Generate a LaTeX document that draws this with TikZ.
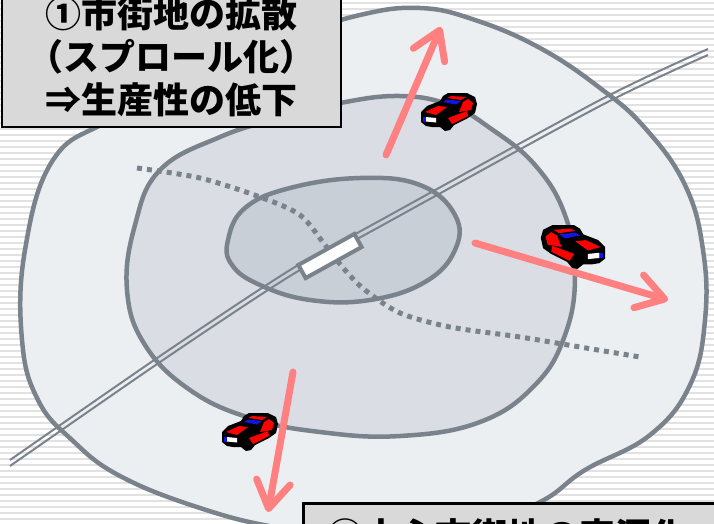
\documentclass[tikz,border=0pt]{standalone}
\usepackage{fontspec}
\newfontfamily\jpfont{Noto Sans CJK JP}
\usetikzlibrary{arrows.meta}

\definecolor{ring}{RGB}{122,131,140}
\definecolor{outerzone}{RGB}{236,239,242}
\definecolor{middlezone}{RGB}{218,222,228}
\definecolor{innerzone}{RGB}{200,207,215}
\definecolor{spreadred}{RGB}{255,128,128}
\definecolor{boxgray}{RGB}{217,217,217}
\definecolor{stripe}{RGB}{226,226,226}
\definecolor{carred}{RGB}{255,0,0}
\definecolor{carblue}{RGB}{20,20,230}

% small pixel style car, nose to the lower left
\tikzset{
  car/.pic={
    \begin{scope}[shift={(-39,-28)}]
      \fill[black] (11,28) -- (17,22) -- (30,17) -- (33,12) -- (38,9) -- (57,9) -- (65,13)
        -- (67,20) -- (65,29) -- (58,34) -- (44,41) -- (40,46) -- (35,47) -- (30,43)
        -- (22,43) -- (16,42) -- (11,38) -- cycle;
      \fill[carred] (15,28) -- (28,22) -- (37,23) -- (26,31) -- cycle;
      \fill[carred] (37,14) -- (41,12) -- (56,13) -- (51,16) -- cycle;
      \fill[carblue] (33,18) -- (37,15.5) -- (51,17) -- (46,20.5) -- cycle;
      \fill[carred] (53,18) -- (58,15) -- (63,19) -- (61,26) -- (49,28) -- cycle;
      \fill[carred] (38,34) -- (57,27) -- (58,32) -- (42,40) -- cycle;
      \fill[white] (16,33) -- (26,34) -- (26,38.5) -- (16,37.5) -- cycle;
      \fill[carblue] (13,33) -- (15.5,33) -- (15.5,37.5) -- (13,37.5) -- cycle;
    \end{scope}
  }
}

\begin{document}
\begin{tikzpicture}[x=1pt,y=-1pt,
    zone/.style={draw=ring,line width=4.5pt},
    rail/.style={draw=ring,line width=2pt},
    spread/.style={draw=spreadred,line width=7pt,line cap=round,
      -{Straight Barb[length=27pt,width=34pt,line cap=round,line join=round]}},
    note/.style={draw=black,line width=2.5pt,fill=boxgray,inner sep=0pt,
      font=\jpfont\bfseries\fontsize{36}{43}\selectfont}]

  \useasboundingbox (0,0) rectangle (714,523);
  \clip (0,0) rectangle (714,523);

  % striped backdrop
  \fill[white] (0,0) rectangle (714,523);
  \foreach \y in {2,8,...,524}
    \fill[stripe] (0,\y) rectangle (714,\y+2);

  % urban zones
  \draw[zone,fill=outerzone] plot[smooth cycle,tension=0.7] coordinates {
    (53,160) (110,120) (200,75) (290,38) (360,15) (420,8) (475,20) (540,48)
    (600,88) (645,128) (685,185) (703,250) (705,320) (690,385) (650,435)
    (585,470) (540,502) (470,528) (380,540) (280,528) (200,508) (120,476)
    (72,440) (38,400) (22,340) (25,250)};
  \draw[zone,fill=middlezone] plot[smooth cycle,tension=0.7] coordinates {
    (127,290) (135,225) (160,170) (220,137) (280,118) (340,103) (400,96)
    (450,105) (490,128) (535,165) (565,215) (575,275) (565,335) (535,385)
    (480,422) (400,436) (320,432) (250,418) (190,390) (145,345)};
  \draw[zone,fill=innerzone] plot[smooth cycle,tension=0.7] coordinates {
    (228,240) (245,208) (290,188) (360,178) (420,185) (455,215) (455,250)
    (425,282) (370,300) (310,300) (260,285) (232,265)};

  % boundary (dotted)
  \draw[ring,line width=5pt,dash pattern=on 5pt off 5pt] plot[smooth] coordinates {
    (137,168) (200,178) (260,197) (300,215) (325,245) (345,270) (365,290)
    (400,313) (450,327) (520,337) (580,347) (640,357)};

  % railway and station
  \foreach \s in {-3,3}
    \draw[rail,yshift=\s pt] plot[smooth] coordinates {
      (10,463) (163,357) (290,273) (370,229) (600,103) (708,52)};
  \node[draw=ring,fill=white,line width=4pt,minimum width=64pt,minimum height=15pt,
    inner sep=0pt,rotate=29] (station) at (330,256) {};

  % outward spread
  \coordinate (n0) at (386,155);  \coordinate (n1) at (441,27);
  \coordinate (e0) at (475,243);  \coordinate (e1) at (668,300);
  \coordinate (s0) at (293,372);  \coordinate (s1) at (268,512);
  \draw[spread] (n0) -- (n1);
  \draw[spread] (e0) -- (e1);
  \draw[spread] (s0) -- (s1);

  \pic at (449,112) {car};
  \pic[xscale=-1.15,yscale=1.15] at (573,247) {car};
  \pic at (250,432) {car};

  % captions
  \node[note,minimum width=339pt,minimum height=140pt,align=center] (sprawl) at (171.5,57)
    {①市街地の拡散\\（スプロール化）\\⇒生産性の低下};
  \node[note,anchor=north west,inner xsep=24pt,inner ysep=15pt,text width=420pt,align=left]
    (hollow) at (302,502) {②中心市街地の空洞化};
\end{tikzpicture}
\end{document}
